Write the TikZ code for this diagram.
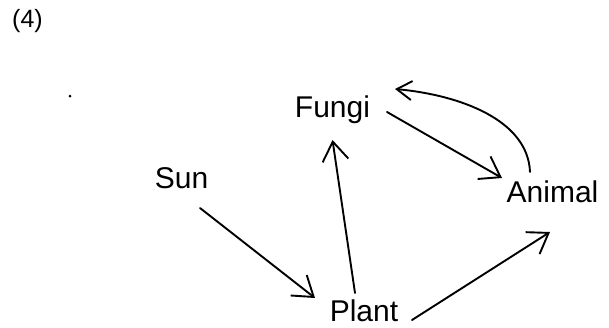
\documentclass[tikz,border=0pt]{standalone}
\usepackage{fontspec}
\setmainfont{Liberation Sans}
\usetikzlibrary{arrows.meta}
\tikzset{
  word/.style={anchor=base, inner sep=0pt, font=\fontsize{30}{36}\selectfont},
  link/.style={line width=1.9pt, line cap=round, -{Straight Barb[length=19pt,width=26pt]}},
}

\begin{document}
\begin{tikzpicture}[x=1pt,y=-1pt]
\useasboundingbox (0,0) rectangle (609,327);
% label
\node[word, font=\fontsize{25}{30}\selectfont] (lbl) at (27.5,27) {(4)};
\fill (70,96) circle (1.5);

% organisms
\node[word] (sun) at (181.5,188) {Sun};
\node[word] (fungi) at (332.5,117) {Fungi};
\node[word] (plant) at (364,321) {Plant};
\node[word] (animal) at (552.5,202) {Animal};

% flows
\draw[link] ([shift={(18.5,20)}]sun.base) -- ([shift={(-49,-23)}]plant.base);
\draw[link] ([shift={(-9,-28)}]plant.base) -- ([shift={(0,23)}]fungi.base);
\draw[link] ([shift={(54.5,-5)}]fungi.base) -- ([shift={(-50.5,-24)}]animal.base);
\draw[link] ([shift={(48,-1)}]plant.base) -- ([shift={(-2.5,30)}]animal.base);
\draw[link, -{Straight Barb[length=15pt,width=19pt]}]
  ([shift={(-22.5,-30)}]animal.base) .. controls +(-2,-52) and +(65,6) .. ([shift={(62.5,-28)}]fungi.base);
\end{tikzpicture}
\end{document}
